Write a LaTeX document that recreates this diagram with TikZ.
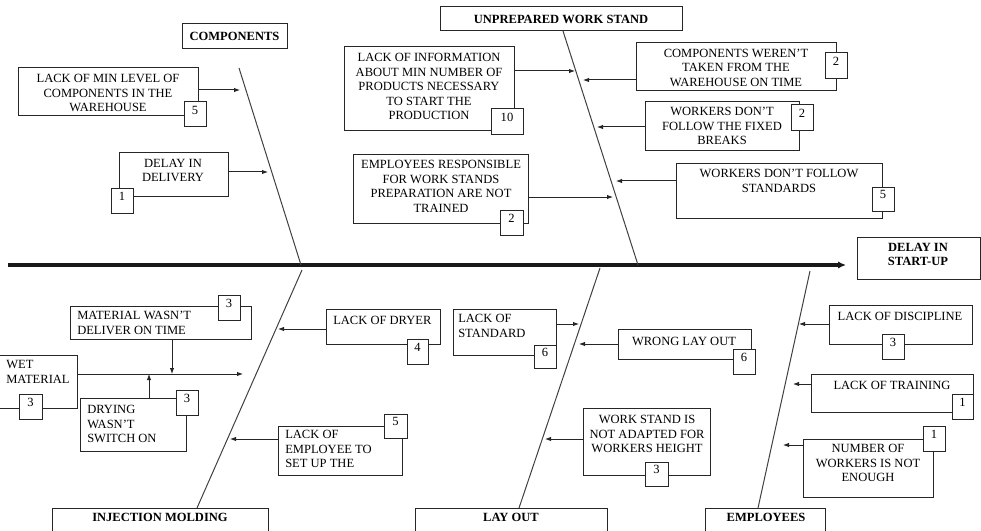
\documentclass[tikz,border=0pt]{standalone}
\usepackage{fontspec}
\setmainfont{Liberation Serif}
\usetikzlibrary{arrows.meta,fit}
\newcommand{\fs}{\fontsize{9.4pt}{10.9pt}\selectfont}
\tikzset{
 bx/.style={draw=black!85, line width=0.75pt, inner sep=0pt},
 numbx/.style={draw=black!85, line width=0.75pt, fill=white, inner sep=0pt, font=\fs},
 lbl/.style={inner sep=0pt, align=center, anchor=north, font=\fs},
 lbll/.style={inner sep=0pt, align=left, anchor=north west, font=\fs},
 hdr/.style={inner sep=0pt, align=center, anchor=north, font=\fs\bfseries},
 bone/.style={draw=black!75, line width=0.75pt},
 arr/.style={draw=black!85, line width=0.75pt, -{Latex[length=4.5pt,width=3.4pt]}},
 spine/.style={draw=black!90, line width=2.3pt, -{Latex[length=6pt,width=5.5pt]}},
}
\begin{document}
\begin{tikzpicture}[x=0.75pt,y=-0.75pt]
\useasboundingbox (0,0) rectangle (981,531);
% spine and bones
\coordinate (s0) at (8,265);
\coordinate (s1) at (846,265);
\coordinate (c1a) at (239,68);  \coordinate (c1b) at (301,265);
\coordinate (c2a) at (563,31);  \coordinate (c2b) at (638,265);
\coordinate (c3a) at (302,270); \coordinate (c3b) at (197,508);
\coordinate (c4a) at (600,268); \coordinate (c4b) at (519,508);
\coordinate (c5a) at (810,271); \coordinate (c5b) at (758,508);
\draw[spine] (s0) -- (s1);
\draw[bone] (c1a) -- (c1b);
\draw[bone] (c2a) -- (c2b);
\draw[bone] (c3a) -- (c3b);
\draw[bone] (c4a) -- (c4b);
\draw[bone] (c5a) -- (c5b);

% header boxes
\node[bx, fit={(182,24) (287,49)}] (H1) {};
\node[bx, fit={(440,7) (682,31)}] (H2) {};
\node[bx, fit={(857,237) (980,279)}] (H0) {};
\node[bx, fit={(52,508) (268,545)}] (H3) {};
\node[bx, fit={(415,508) (607,545)}] (H4) {};
\node[bx, fit={(705,508) (825,545)}] (H5) {};
\node[hdr, anchor=center] (h1t) at (H1.center) {COMPONENTS};
\node[hdr, anchor=center] (h2t) at (H2.center) {UNPREPARED WORK STAND};
\node[hdr] (h0t) at (918,242.5) {DELAY IN\\START-UP};
\node[hdr] (h3t) at (160,513) {INJECTION MOLDING};
\node[hdr] (h4t) at (511,513) {LAY OUT};
\node[hdr] (h5t) at (766,513) {EMPLOYEES};

% cause boxes
\node[bx, fit={(18,68) (198,116)}] (B1) {};
\node[bx, fit={(119,153) (228,196)}] (B2) {};
\node[bx, fit={(344,47) (514,131)}] (B3) {};
\node[bx, fit={(353,155) (528,223)}] (B4) {};
\node[bx, fit={(636,43) (836,91)}] (B5) {};
\node[bx, fit={(645,102) (799,151)}] (B6) {};
\node[bx, fit={(676,164) (882,218)}] (B7) {};
\node[bx, fit={(70,306) (251,339)}] (M1) {};
\node[bx, fit={(-5,355) (77,408)}] (M2) {};
\node[bx, fit={(80,398) (186,451)}] (M3) {};
\node[bx, fit={(326,309) (440,344)}] (L1) {};
\node[bx, fit={(278,426) (402,475)}] (L2) {};
\node[bx, fit={(453,309) (556,355)}] (L3) {};
\node[bx, fit={(618,329) (751,359)}] (L4) {};
\node[bx, fit={(583,408) (710,475)}] (L5) {};
\node[bx, fit={(829,305) (972,344)}] (E1) {};
\node[bx, fit={(811,374) (973,412)}] (E2) {};
\node[bx, fit={(803,439) (933,497)}] (E3) {};

% texts
\node[lbl] (b1t) at (108,74) {LACK OF MIN LEVEL OF\\COMPONENTS IN THE\\WAREHOUSE};
\node[lbl] (b2t) at (173,158.5) {DELAY IN\\DELIVERY};
\node[lbl] (b3t) at (429,53) {LACK OF INFORMATION\\ABOUT MIN NUMBER OF\\PRODUCTS NECESSARY\\TO START THE\\PRODUCTION};
\node[lbl] (b4t) at (441,160) {EMPLOYEES RESPONSIBLE\\FOR WORK STANDS\\PREPARATION ARE NOT\\TRAINED};
\node[lbl] (b5t) at (736,48.5) {COMPONENTS WEREN’T\\TAKEN FROM THE\\WAREHOUSE ON TIME};
\node[lbl] (b6t) at (722,107) {WORKERS DON’T\\FOLLOW THE FIXED\\BREAKS};
\node[lbl] (b7t) at (779,169) {WORKERS DON’T FOLLOW\\STANDARDS};
\node[lbll] (m1t) at (77,311) {MATERIAL WASN’T\\DELIVER ON TIME};
\node[lbll] (m2t) at (6,360) {WET\\MATERIAL};
\node[lbll] (m3t) at (87,405) {DRYING\\WASN’T\\SWITCH ON};
\node[lbll] (l1t) at (333,316) {LACK OF DRYER};
\node[lbll] (l2t) at (285,430) {LACK OF\\EMPLOYEE TO\\SET UP THE};
\node[lbll] (l3t) at (458,314) {LACK OF\\STANDARD};
\node[lbl] (l4t) at (684,337) {WRONG LAY OUT};
\node[lbl] (l5t) at (647,415) {WORK STAND IS\\NOT ADAPTED FOR\\WORKERS HEIGHT};
\node[lbl] (e1t) at (900,312) {LACK OF DISCIPLINE};
\node[lbl] (e2t) at (892,381) {LACK OF TRAINING};
\node[lbl] (e3t) at (868,444) {NUMBER OF\\WORKERS IS NOT\\ENOUGH};

% arrow tips
\coordinate (t1) at (240,90);
\coordinate (t2) at (268,172);
\coordinate (t3) at (575,71);
\coordinate (t4) at (613,197);
\coordinate (t5) at (583,80);
\coordinate (t6) at (597,127);
\coordinate (t7) at (616,181);
\coordinate (t8) at (278,329);
\coordinate (t9) at (230,439);
\coordinate (t10) at (243,374);
\coordinate (t11) at (172,374);
\coordinate (t12) at (149,374);
\coordinate (t13) at (579,324);
\coordinate (t14) at (579,344);
\coordinate (t15) at (545,439);
\coordinate (t16) at (799,324);
\coordinate (t17) at (793,384);
\coordinate (t18) at (783,445);

\draw[arr] (B1.east |- t1) -- (t1);
\draw[arr] (B2.east |- t2) -- (t2);
\draw[arr] (B3.east |- t3) -- (t3);
\draw[arr] (B4.east |- t4) -- (t4);
\draw[arr] (B5.west |- t5) -- (t5);
\draw[arr] (B6.west |- t6) -- (t6);
\draw[arr] (B7.west |- t7) -- (t7);
\draw[arr] (L1.west |- t8) -- (t8);
\draw[arr] (L2.west |- t9) -- (t9);
\draw[arr] (M2.east |- t10) -- (t10);
\draw[arr] (M1.south -| t11) -- (t11);
\draw[arr] (M3.north -| t12) -- (t12);
\draw[arr] (L3.east |- t13) -- (t13);
\draw[arr] (L4.west |- t14) -- (t14);
\draw[arr] (L5.west |- t15) -- (t15);
\draw[arr] (E1.west |- t16) -- (t16);
\draw[arr] (E2.west |- t17) -- (t17);
\draw[arr] (E3.west |- t18) -- (t18);

% number boxes
\node[numbx, fit={(184,102) (206,127)}] (n1) {5};
\node[numbx, fit={(111,188) (133,213)}] (n2) {1};
\node[numbx, fit={(491,109) (523,135)}] (n3) {10};
\node[numbx, fit={(500,210) (523,235)}] (n4) {2};
\node[numbx, fit={(825,53) (847,79)}] (n5) {2};
\node[numbx, fit={(791,105) (813,131)}] (n6) {2};
\node[numbx, fit={(872,187) (894,211)}] (n7) {5};
\node[numbx, fit={(218,295) (240,320)}] (n8) {3};
\node[numbx, fit={(19,394) (42,419)}] (n9) {3};
\node[numbx, fit={(176,390) (198,415)}] (n10) {3};
\node[numbx, fit={(407,339) (428,364)}] (n11) {4};
\node[numbx, fit={(384,414) (407,438)}] (n12) {5};
\node[numbx, fit={(534,345) (556,368)}] (n13) {6};
\node[numbx, fit={(733,349) (755,374)}] (n14) {6};
\node[numbx, fit={(645,462) (668,486)}] (n15) {3};
\node[numbx, fit={(882,334) (904,359)}] (n16) {3};
\node[numbx, fit={(952,394) (973,419)}] (n17) {1};
\node[numbx, fit={(923,426) (945,451)}] (n18) {1};
\end{tikzpicture}
\end{document}
